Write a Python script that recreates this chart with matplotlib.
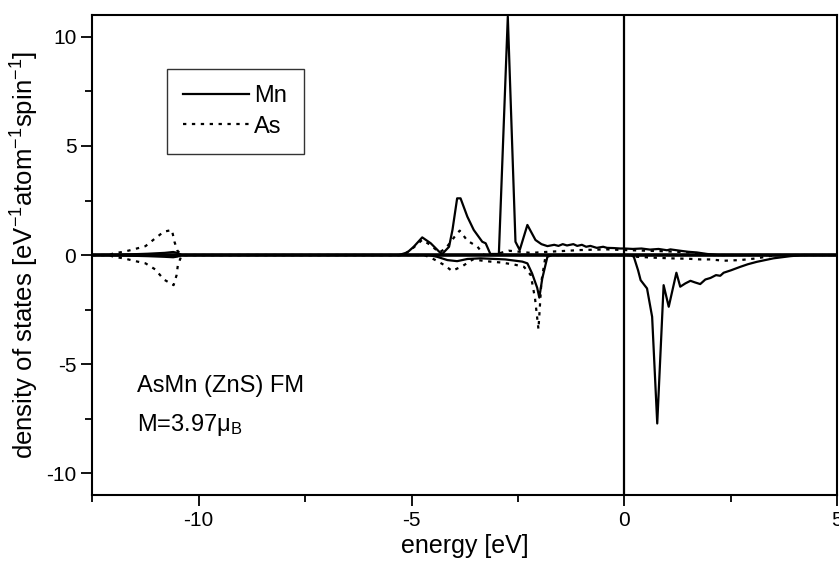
import matplotlib
matplotlib.use("Agg")
import matplotlib.pyplot as plt
from matplotlib.ticker import MultipleLocator

plt.rcParams['font.family'] = ['Liberation Sans', 'DejaVu Sans']
plt.rcParams['mathtext.fontset'] = 'custom'
plt.rcParams['mathtext.rm'] = 'Liberation Sans'
plt.rcParams['mathtext.it'] = 'Liberation Sans:italic'
plt.rcParams['axes.unicode_minus'] = False

# Mn, spin up
mn_up_e = [-12.5, -11.8, -11.2, -10.8, -10.6, -10.5, -10.4,
           -5.3, -5.1, -4.95, -4.75, -4.55, -4.35, -4.28, -4.12, -4.04, -3.93, -3.85,
           -3.69, -3.54, -3.34, -3.26, -3.15, -2.95, -2.74, -2.56, -2.46, -2.28, -2.09,
           -1.95, -1.81, -1.65, -1.55, -1.45, -1.35, -1.2, -1.11, -1.0, -0.9, -0.8,
           -0.65, -0.5, -0.41, -0.25, -0.1, 0.0, 0.2, 0.4, 0.6, 0.8, 1.0, 1.08, 1.3,
           1.5, 1.7, 1.94, 2.2, 5.0]
mn_up = [0, 0.02, 0.06, 0.1, 0.14, 0.1, 0,
         0, 0.12, 0.38, 0.81, 0.54, 0.15, 0.05, 0.38, 1.15, 2.6, 2.6,
         1.76, 1.15, 0.61, 0.54, 0.05, 0.05, 10.93, 0.61, 0.23, 1.38, 0.69,
         0.5, 0.41, 0.47, 0.42, 0.5, 0.44, 0.5, 0.42, 0.47, 0.38, 0.42,
         0.33, 0.38, 0.33, 0.32, 0.3, 0.3, 0.28, 0.3, 0.25, 0.28, 0.22, 0.26, 0.2,
         0.15, 0.12, 0.05, 0.0, 0]

# Mn, spin down
mn_dn_e = [-12.5, -11.8, -11.2, -10.8, -10.6, -10.5, -10.4,
           -4.6, -4.4, -4.16, -3.93, -3.69, -3.38, -2.8, -2.4, -2.28, -2.17, -2.05,
           -2.0, -1.93, -1.81, -1.7,
           0.15, 0.22, 0.32, 0.38, 0.53, 0.65, 0.77, 0.92, 1.04, 1.22, 1.31, 1.43,
           1.55, 1.65, 1.78, 1.9, 2.02, 2.15, 2.25, 2.33, 2.5, 2.72, 2.9, 3.11, 3.5,
           3.9, 4.2, 5.0]
mn_dn = [0, -0.02, -0.05, -0.08, -0.1, -0.07, 0,
         0, -0.08, -0.23, -0.28, -0.18, -0.15, -0.2, -0.3, -0.38, -0.84, -1.5,
         -1.95, -1.07, -0.08, 0,
         0, -0.08, -0.7, -1.15, -1.53, -2.83, -7.72, -1.38, -2.37, -0.81, -1.45, -1.3,
         -1.18, -1.25, -1.33, -1.12, -1.05, -0.92, -0.95, -0.81, -0.7, -0.54, -0.42, -0.31, -0.15,
         -0.05, 0, 0]

# As, spin up
as_up_e = [-12.5, -12.1, -12.0, -11.76, -11.53, -11.25, -11.02, -10.82, -10.63, -10.57,
           -10.5, -10.4,
           -5.2, -4.95, -4.75, -4.55, -4.35, -4.2, -3.99, -3.87, -3.69, -3.45, -3.3,
           -3.0, -2.72, -2.2, -1.78, -1.5, -1.03, -0.41, 0.0, 0.5, 1.0, 1.5, 1.8, 2.1,
           5.0]
as_up = [0, 0, 0.08, 0.15, 0.26, 0.41, 0.77, 1.07, 1.15, 0.61,
         0.2, 0,
         0, 0.35, 0.7, 0.45, 0.12, 0.3, 0.84, 1.12, 0.66, 0.38, 0.0,
         0.05, 0.2, 0.1, 0.15, 0.18, 0.23, 0.26, 0.23, 0.2, 0.17, 0.12, 0.06, 0.0,
         0]

# As, spin down
as_dn_e = [-12.5, -12.1, -12.0, -11.76, -11.53, -11.25, -11.02, -10.82, -10.59, -10.52,
           -10.49, -10.4,
           -4.7, -4.47, -4.23, -4.05, -3.8, -3.56, -3.33, -3.1, -2.91, -2.6, -2.36,
           -2.2, -2.1, -2.02, -1.95, -1.85,
           0.1, 0.3, 0.7, 1.08, 1.5, 1.78, 2.02, 2.33, 2.72, 3.11, 3.4, 3.6, 5.0]
as_dn = [0, 0, -0.08, -0.15, -0.26, -0.38, -0.66, -1.12, -1.38, -0.92,
         -0.46, 0,
         0, -0.2, -0.46, -0.73, -0.5, -0.2, -0.26, -0.31, -0.34, -0.43, -0.54,
         -0.92, -2.0, -3.4, -1.2, 0,
         0, -0.08, -0.12, -0.15, -0.17, -0.2, -0.2, -0.26, -0.23, -0.15, -0.05, 0, 0]

fig = plt.figure(figsize=(8.39, 5.61), dpi=100)
ax = fig.add_axes([0.110, 0.1176, 0.888, 0.8555])

dots = (0, (1.5, 2.5))
ax.plot(mn_up_e, mn_up, color='black', lw=1.6, label='Mn')
ax.plot(as_up_e, as_up, color='black', lw=1.6, linestyle=dots, label='As')
ax.plot(mn_dn_e, mn_dn, color='black', lw=1.6)
ax.plot(as_dn_e, as_dn, color='black', lw=1.6, linestyle=dots)

ax.axhline(0, color='black', lw=2.6, zorder=3)
ax.axvline(0, color='black', lw=1.6)

ax.set_xlim(-12.5, 5)
ax.set_ylim(-11, 11)
ax.xaxis.set_major_locator(MultipleLocator(5))
ax.xaxis.set_minor_locator(MultipleLocator(2.5))
ax.yaxis.set_major_locator(MultipleLocator(5))
ax.yaxis.set_minor_locator(MultipleLocator(2.5))
ax.tick_params(which='both', direction='out', top=False, right=False,
               width=1.3, labelsize=15)
ax.tick_params(which='major', length=8)
ax.tick_params(which='minor', length=5)
for s in ax.spines.values():
    s.set_linewidth(1.5)

ax.set_xlabel('energy [eV]', fontsize=18, labelpad=3)
ax.set_ylabel('density of states [eV$^{-1}$atom$^{-1}$spin$^{-1}$]', fontsize=18.5, labelpad=4)

ax.text(0.06, 0.227, 'AsMn (ZnS) FM', transform=ax.transAxes, fontsize=17, va='center')
ax.text(0.06, 0.146, 'M=3.97μ$_{\\rm B}$', transform=ax.transAxes, fontsize=17, va='center')

leg = ax.legend(loc='upper left', bbox_to_anchor=(0.10, 0.888), fontsize=17,
                frameon=True, fancybox=False, borderpad=0.7, handlelength=2.8,
                labelspacing=0.35, handletextpad=0.2, borderaxespad=0)
leg.get_frame().set_edgecolor('black')
leg.get_frame().set_linewidth(1.0)

fig.savefig('out.png', dpi=100)
